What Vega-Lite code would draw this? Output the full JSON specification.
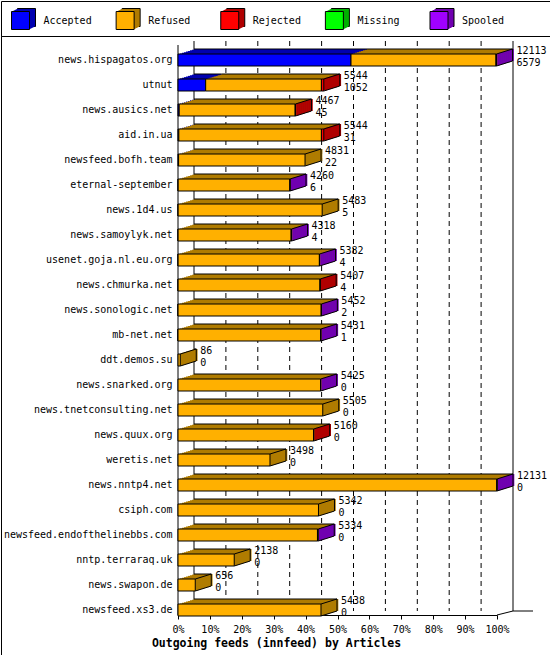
{
  "$schema": "https://vega.github.io/schema/vega-lite/v6.json",
  "padding": 0,
  "spacing": 0,
  "bounds": "flush",
  "datasets": {
    "seg": [
      {"host": "news.hispagatos.org", "status": "Accepted", "articles": 6579},
      {"host": "news.hispagatos.org", "status": "Refused", "articles": 5514},
      {"host": "news.hispagatos.org", "status": "Spooled", "articles": 20},
      {"host": "utnut", "status": "Accepted", "articles": 1052},
      {"host": "utnut", "status": "Refused", "articles": 4402},
      {"host": "utnut", "status": "Rejected", "articles": 90},
      {"host": "news.ausics.net", "status": "Accepted", "articles": 45},
      {"host": "news.ausics.net", "status": "Refused", "articles": 4412},
      {"host": "news.ausics.net", "status": "Rejected", "articles": 10},
      {"host": "aid.in.ua", "status": "Accepted", "articles": 31},
      {"host": "aid.in.ua", "status": "Refused", "articles": 5423},
      {"host": "aid.in.ua", "status": "Rejected", "articles": 90},
      {"host": "newsfeed.bofh.team", "status": "Accepted", "articles": 22},
      {"host": "newsfeed.bofh.team", "status": "Refused", "articles": 4809},
      {"host": "eternal-september", "status": "Accepted", "articles": 6},
      {"host": "eternal-september", "status": "Refused", "articles": 4249},
      {"host": "eternal-september", "status": "Spooled", "articles": 5},
      {"host": "news.1d4.us", "status": "Accepted", "articles": 5},
      {"host": "news.1d4.us", "status": "Refused", "articles": 5478},
      {"host": "news.samoylyk.net", "status": "Accepted", "articles": 4},
      {"host": "news.samoylyk.net", "status": "Refused", "articles": 4299},
      {"host": "news.samoylyk.net", "status": "Spooled", "articles": 15},
      {"host": "usenet.goja.nl.eu.org", "status": "Accepted", "articles": 4},
      {"host": "usenet.goja.nl.eu.org", "status": "Refused", "articles": 5373},
      {"host": "usenet.goja.nl.eu.org", "status": "Spooled", "articles": 5},
      {"host": "news.chmurka.net", "status": "Accepted", "articles": 4},
      {"host": "news.chmurka.net", "status": "Refused", "articles": 5398},
      {"host": "news.chmurka.net", "status": "Rejected", "articles": 5},
      {"host": "news.sonologic.net", "status": "Accepted", "articles": 2},
      {"host": "news.sonologic.net", "status": "Refused", "articles": 5445},
      {"host": "news.sonologic.net", "status": "Spooled", "articles": 5},
      {"host": "mb-net.net", "status": "Accepted", "articles": 1},
      {"host": "mb-net.net", "status": "Refused", "articles": 5425},
      {"host": "mb-net.net", "status": "Spooled", "articles": 5},
      {"host": "ddt.demos.su", "status": "Refused", "articles": 86},
      {"host": "news.snarked.org", "status": "Refused", "articles": 5420},
      {"host": "news.snarked.org", "status": "Spooled", "articles": 5},
      {"host": "news.tnetconsulting.net", "status": "Refused", "articles": 5505},
      {"host": "news.quux.org", "status": "Refused", "articles": 5155},
      {"host": "news.quux.org", "status": "Rejected", "articles": 5},
      {"host": "weretis.net", "status": "Refused", "articles": 3498},
      {"host": "news.nntp4.net", "status": "Refused", "articles": 12126},
      {"host": "news.nntp4.net", "status": "Spooled", "articles": 5},
      {"host": "csiph.com", "status": "Refused", "articles": 5342},
      {"host": "newsfeed.endofthelinebbs.com", "status": "Refused", "articles": 5304},
      {"host": "newsfeed.endofthelinebbs.com", "status": "Spooled", "articles": 30},
      {"host": "nntp.terraraq.uk", "status": "Refused", "articles": 2138},
      {"host": "news.swapon.de", "status": "Refused", "articles": 656},
      {"host": "newsfeed.xs3.de", "status": "Refused", "articles": 5438}
    ],
    "hosts": [
      {"host": "news.hispagatos.org", "total": 12113, "accepted": 6579},
      {"host": "utnut", "total": 5544, "accepted": 1052},
      {"host": "news.ausics.net", "total": 4467, "accepted": 45},
      {"host": "aid.in.ua", "total": 5544, "accepted": 31},
      {"host": "newsfeed.bofh.team", "total": 4831, "accepted": 22},
      {"host": "eternal-september", "total": 4260, "accepted": 6},
      {"host": "news.1d4.us", "total": 5483, "accepted": 5},
      {"host": "news.samoylyk.net", "total": 4318, "accepted": 4},
      {"host": "usenet.goja.nl.eu.org", "total": 5382, "accepted": 4},
      {"host": "news.chmurka.net", "total": 5407, "accepted": 4},
      {"host": "news.sonologic.net", "total": 5452, "accepted": 2},
      {"host": "mb-net.net", "total": 5431, "accepted": 1},
      {"host": "ddt.demos.su", "total": 86, "accepted": 0},
      {"host": "news.snarked.org", "total": 5425, "accepted": 0},
      {"host": "news.tnetconsulting.net", "total": 5505, "accepted": 0},
      {"host": "news.quux.org", "total": 5160, "accepted": 0},
      {"host": "weretis.net", "total": 3498, "accepted": 0},
      {"host": "news.nntp4.net", "total": 12131, "accepted": 0},
      {"host": "csiph.com", "total": 5342, "accepted": 0},
      {"host": "newsfeed.endofthelinebbs.com", "total": 5334, "accepted": 0},
      {"host": "nntp.terraraq.uk", "total": 2138, "accepted": 0},
      {"host": "news.swapon.de", "total": 656, "accepted": 0},
      {"host": "newsfeed.xs3.de", "total": 5438, "accepted": 0}
    ],
    "status": [
      {"status": "Accepted"},
      {"status": "Refused"},
      {"status": "Rejected"},
      {"status": "Missing"},
      {"status": "Spooled"}
    ]
  },
  "resolve": {"scale": {"x": "independent", "y": "independent"}},
  "vconcat": [
    {
      "width": 549,
      "height": 35,
      "data": {"name": "status"},
      "encoding": {
        "x": {"field": "status", "type": "nominal", "axis": null,
              "scale": {"type": "point", "domain": ["Accepted", "Refused", "Rejected", "Missing", "Spooled"], "range": [19.5, 438], "padding": 0}}
      },
      "layer": [
        {"mark": {"type": "point", "shape": "square", "filled": true, "size": 324, "opacity": 1, "stroke": "black", "strokeWidth": 1, "xOffset": 6, "yOffset": -1},
         "encoding": {"fill": {"field": "status", "type": "nominal", "scale": {"domain": ["Accepted", "Refused", "Rejected", "Missing", "Spooled"], "range": ["#0000b0", "#b07c00", "#b00000", "#00b000", "#7000b0"]}}}},
        {"mark": {"type": "point", "shape": "square", "filled": true, "size": 324, "opacity": 1, "strokeWidth": 0, "xOffset": 5, "yOffset": -0.5},
         "encoding": {"fill": {"field": "status", "type": "nominal"}}},
        {"mark": {"type": "point", "shape": "square", "filled": true, "size": 324, "opacity": 1, "strokeWidth": 0, "xOffset": 4, "yOffset": 0},
         "encoding": {"fill": {"field": "status", "type": "nominal"}}},
        {"mark": {"type": "point", "shape": "square", "filled": true, "size": 324, "opacity": 1, "strokeWidth": 0, "xOffset": 3, "yOffset": 0.5},
         "encoding": {"fill": {"field": "status", "type": "nominal"}}},
        {"mark": {"type": "point", "shape": "square", "filled": true, "size": 324, "opacity": 1, "strokeWidth": 0, "xOffset": 2, "yOffset": 1},
         "encoding": {"fill": {"field": "status", "type": "nominal"}}},
        {"mark": {"type": "point", "shape": "square", "filled": true, "size": 324, "opacity": 1, "strokeWidth": 0, "xOffset": 1, "yOffset": 1.5},
         "encoding": {"fill": {"field": "status", "type": "nominal"}}},
        {"mark": {"type": "point", "shape": "square", "filled": true, "size": 324, "opacity": 1, "stroke": "black", "strokeWidth": 1, "yOffset": 2},
         "encoding": {"color": {"field": "status", "type": "nominal", "scale": {"domain": ["Accepted", "Refused", "Rejected", "Missing", "Spooled"], "range": ["#0000ff", "#ffb000", "#ff0000", "#00ff00", "#a000ff"]}}}},
        {"mark": {"type": "text", "align": "left", "baseline": "middle", "dx": 23, "dy": 2.5, "fontSize": 10, "color": "black"},
         "encoding": {"text": {"field": "status"}}}
      ]
    },
    {
      "width": 549,
      "height": 619,
      "resolve": {"scale": {"x": "independent"}},
      "layer": [
        {
          "layer": [
            {"data": {"values": [{"pct": 10}, {"pct": 20}, {"pct": 30}, {"pct": 40}, {"pct": 50}, {"pct": 60}, {"pct": 70}, {"pct": 80}, {"pct": 90}]},
             "mark": {"type": "rule", "color": "black", "strokeWidth": 1, "strokeDash": [5, 4], "xOffset": 16, "yOffset": -19, "y2Offset": 1},
             "encoding": {
               "x": {"field": "pct", "type": "quantitative",
                     "scale": {"domain": [0, 100], "range": [177, 496]},
                     "axis": {"values": [0, 10, 20, 30, 40, 50, 60, 70, 80, 90, 100], "labelExpr": "datum.value + '%'",
                              "labelOverlap": false, "labelFlush": false,
                              "offset": -40, "domain": true, "domainColor": "black", "ticks": true, "tickSize": 4, "tickColor": "black",
                              "grid": false, "labelPadding": 13, "labelBaseline": "alphabetic", "labelFontSize": 10, "labelColor": "black",
                              "title": "Outgoing feeds (innfeed) by Articles", "titleFontWeight": "bold", "titleFontSize": 11.5,
                              "titleColor": "black", "titleX": 275, "titleY": 31.5, "titleAlign": "center", "titleBaseline": "alphabetic"}},
               "y": {"datum": "news.hispagatos.org", "type": "nominal", "title": null},
               "y2": {"datum": "newsfeed.xs3.de"}
             }},
            {"data": {"values": [{"pct": 0}, {"pct": 100}]},
             "mark": {"type": "rule", "color": "black", "strokeWidth": 1, "xOffset": 16, "yOffset": -19, "y2Offset": 1},
             "encoding": {
               "x": {"field": "pct", "type": "quantitative"},
               "y": {"datum": "news.hispagatos.org", "type": "nominal", "title": null},
               "y2": {"datum": "newsfeed.xs3.de"}
             }},
            {"data": {"values": [{"pct": 0}]},
             "mark": {"type": "rule", "color": "black", "strokeWidth": 1, "yOffset": -15, "y2Offset": 5},
             "encoding": {
               "x": {"field": "pct", "type": "quantitative"},
               "y": {"datum": "news.hispagatos.org", "type": "nominal", "title": null},
               "y2": {"datum": "newsfeed.xs3.de"}
             }},
            {"data": {"values": [{"pct": 100}]},
             "mark": {"type": "rule", "color": "black", "strokeWidth": 1, "x2Offset": 16, "yOffset": 5, "y2Offset": 1},
             "encoding": {
               "x": {"field": "pct", "type": "quantitative"},
               "x2": {"field": "pct"},
               "y": {"datum": "newsfeed.xs3.de", "type": "nominal", "title": null},
               "y2": {"datum": "newsfeed.xs3.de"}
             }},
            {"data": {"values": [{"pct": 100}]},
             "mark": {"type": "rule", "color": "black", "strokeWidth": 1, "xOffset": 16, "x2Offset": 36, "yOffset": 1},
             "encoding": {
               "x": {"field": "pct", "type": "quantitative"},
               "x2": {"field": "pct"},
               "y": {"datum": "newsfeed.xs3.de", "type": "nominal", "title": null}
             }}
          ]
        },
        {
          "data": {"name": "seg"},
          "transform": [
            {"stack": "articles", "groupby": ["host"], "sort": [{"field": "status"}], "as": ["x0", "x1"]}
          ],
          "encoding": {
            "x": {"field": "x0", "type": "quantitative", "axis": null,
                  "scale": {"domain": [0, 12131], "range": [177, 496]}},
            "y": {"field": "host", "type": "nominal", "title": null,
                  "scale": {"domain": ["news.hispagatos.org", "utnut", "news.ausics.net", "aid.in.ua", "newsfeed.bofh.team", "eternal-september", "news.1d4.us", "news.samoylyk.net", "usenet.goja.nl.eu.org", "news.chmurka.net", "news.sonologic.net", "mb-net.net", "ddt.demos.su", "news.snarked.org", "news.tnetconsulting.net", "news.quux.org", "weretis.net", "news.nntp4.net", "csiph.com", "newsfeed.endofthelinebbs.com", "nntp.terraraq.uk", "news.swapon.de", "newsfeed.xs3.de"],
                            "range": [11.5, 586.5], "paddingInner": 0.52, "paddingOuter": 0.26}}
          },
          "layer": [
            {"mark": {"type": "rect", "xOffset": 16, "x2Offset": 16, "yOffset": -5},
             "encoding": {"x2": {"field": "x1"},
                          "fill": {"field": "status", "type": "nominal", "scale": {"domain": ["Accepted", "Refused", "Rejected", "Missing", "Spooled"], "range": ["#0000b0", "#b07c00", "#b00000", "#00b000", "#7000b0"]}}}},
            {"mark": {"type": "rect", "xOffset": 14, "x2Offset": 14, "yOffset": -4.375},
             "encoding": {"x2": {"field": "x1"}, "fill": {"field": "status", "type": "nominal"}}},
            {"mark": {"type": "rect", "xOffset": 12, "x2Offset": 12, "yOffset": -3.75},
             "encoding": {"x2": {"field": "x1"}, "fill": {"field": "status", "type": "nominal"}}},
            {"mark": {"type": "rect", "xOffset": 10, "x2Offset": 10, "yOffset": -3.125},
             "encoding": {"x2": {"field": "x1"}, "fill": {"field": "status", "type": "nominal"}}},
            {"mark": {"type": "rect", "xOffset": 8, "x2Offset": 8, "yOffset": -2.5},
             "encoding": {"x2": {"field": "x1"}, "fill": {"field": "status", "type": "nominal"}}},
            {"mark": {"type": "rect", "xOffset": 6, "x2Offset": 6, "yOffset": -1.875},
             "encoding": {"x2": {"field": "x1"}, "fill": {"field": "status", "type": "nominal"}}},
            {"mark": {"type": "rect", "xOffset": 4, "x2Offset": 4, "yOffset": -1.25},
             "encoding": {"x2": {"field": "x1"}, "fill": {"field": "status", "type": "nominal"}}},
            {"mark": {"type": "rect", "xOffset": 2, "x2Offset": 2, "yOffset": -0.625},
             "encoding": {"x2": {"field": "x1"}, "fill": {"field": "status", "type": "nominal"}}},
            {"transform": [
               {"joinaggregate": [{"op": "max", "field": "x1", "as": "tot"}], "groupby": ["host"]},
               {"filter": "datum.x1 == datum.tot"}
             ],
             "layer": [
               {"mark": {"type": "tick", "size": 12, "thickness": 2.6, "opacity": 1, "xOffset": 16, "yOffset": -5},
                "encoding": {"x": {"field": "x1", "type": "quantitative", "axis": null}, "fill": {"field": "status", "type": "nominal"}}},
               {"mark": {"type": "tick", "size": 12, "thickness": 2.6, "opacity": 1, "xOffset": 14, "yOffset": -4.375},
                "encoding": {"x": {"field": "x1", "type": "quantitative", "axis": null}, "fill": {"field": "status", "type": "nominal"}}},
               {"mark": {"type": "tick", "size": 12, "thickness": 2.6, "opacity": 1, "xOffset": 12, "yOffset": -3.75},
                "encoding": {"x": {"field": "x1", "type": "quantitative", "axis": null}, "fill": {"field": "status", "type": "nominal"}}},
               {"mark": {"type": "tick", "size": 12, "thickness": 2.6, "opacity": 1, "xOffset": 10, "yOffset": -3.125},
                "encoding": {"x": {"field": "x1", "type": "quantitative", "axis": null}, "fill": {"field": "status", "type": "nominal"}}},
               {"mark": {"type": "tick", "size": 12, "thickness": 2.6, "opacity": 1, "xOffset": 8, "yOffset": -2.5},
                "encoding": {"x": {"field": "x1", "type": "quantitative", "axis": null}, "fill": {"field": "status", "type": "nominal"}}},
               {"mark": {"type": "tick", "size": 12, "thickness": 2.6, "opacity": 1, "xOffset": 6, "yOffset": -1.875},
                "encoding": {"x": {"field": "x1", "type": "quantitative", "axis": null}, "fill": {"field": "status", "type": "nominal"}}},
               {"mark": {"type": "tick", "size": 12, "thickness": 2.6, "opacity": 1, "xOffset": 4, "yOffset": -1.25},
                "encoding": {"x": {"field": "x1", "type": "quantitative", "axis": null}, "fill": {"field": "status", "type": "nominal"}}},
               {"mark": {"type": "tick", "size": 12, "thickness": 2.6, "opacity": 1, "xOffset": 2, "yOffset": -0.625},
                "encoding": {"x": {"field": "x1", "type": "quantitative", "axis": null}, "fill": {"field": "status", "type": "nominal"}}}
             ]},
            {"mark": {"type": "rect", "stroke": "black", "strokeWidth": 1},
             "encoding": {"x2": {"field": "x1"},
                          "color": {"field": "status", "type": "nominal", "scale": {"domain": ["Accepted", "Refused", "Rejected", "Missing", "Spooled"], "range": ["#0000ff", "#ffb000", "#ff0000", "#00ff00", "#a000ff"]}}}},
            {"mark": {"type": "rule", "color": "black", "strokeWidth": 1, "xOffset": 16, "x2Offset": 16, "yOffset": -11},
             "encoding": {"x2": {"field": "x1"}}},
            {"transform": [
               {"joinaggregate": [{"op": "max", "field": "x1", "as": "tot"}], "groupby": ["host"]},
               {"filter": "datum.x1 == datum.tot"}
             ],
             "mark": {"type": "tick", "size": 12, "thickness": 1, "opacity": 1, "color": "black", "xOffset": 16, "yOffset": -5},
             "encoding": {"x": {"field": "x1", "type": "quantitative", "axis": null}}},
            {"data": {"name": "hosts"},
             "mark": {"type": "rule", "color": "black", "strokeWidth": 1, "x2Offset": 16, "yOffset": -6, "y2Offset": -11},
             "encoding": {"x": {"datum": 0, "type": "quantitative", "axis": null}, "x2": {"datum": 0}, "y2": {"field": "host"}}},
            {"data": {"name": "hosts"},
             "mark": {"type": "rule", "color": "black", "strokeWidth": 1, "x2Offset": 16, "yOffset": -6, "y2Offset": -11},
             "encoding": {"x": {"field": "total", "type": "quantitative", "axis": null}, "x2": {"field": "total"}, "y2": {"field": "host"}}},
            {"data": {"name": "hosts"},
             "mark": {"type": "rule", "color": "black", "strokeWidth": 1, "x2Offset": 16, "yOffset": 6, "y2Offset": 1},
             "encoding": {"x": {"field": "total", "type": "quantitative", "axis": null}, "x2": {"field": "total"}, "y2": {"field": "host"}}},
            {"data": {"name": "hosts"},
             "mark": {"type": "text", "align": "left", "baseline": "alphabetic", "dx": 20, "dy": -6, "fontSize": 10, "color": "black"},
             "encoding": {"x": {"field": "total", "type": "quantitative", "axis": null}, "text": {"field": "total", "type": "quantitative", "format": "d"}}},
            {"data": {"name": "hosts"},
             "mark": {"type": "text", "align": "left", "baseline": "alphabetic", "dx": 20, "dy": 6, "fontSize": 10, "color": "black"},
             "encoding": {"x": {"field": "total", "type": "quantitative", "axis": null}, "text": {"field": "accepted", "type": "quantitative", "format": "d"}}}
          ]
        }
      ]
    }
  ],
  "config": {
    "font": "DejaVu Sans Mono",
    "view": {"stroke": "black", "strokeWidth": 1},
    "legend": {"disable": true},
    "axisY": {"offset": -177, "domain": false, "ticks": false, "grid": false, "labelPadding": 6, "labelFontSize": 10, "labelColor": "black", "labelFont": "DejaVu Sans Mono"},
    "axisX": {"labelFont": "DejaVu Sans Mono", "titleFont": "DejaVu Sans Mono"}
  }
}
